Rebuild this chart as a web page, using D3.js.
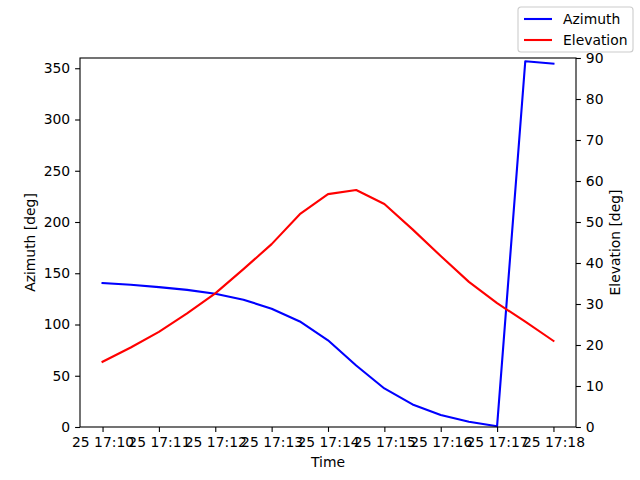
<!DOCTYPE html>
<html>
<head>
<meta charset="utf-8">
<script src="https://cdn.jsdelivr.net/npm/d3@7"></script>
<style>
  body { margin: 0; background: #fff; }
  text { font-family: "DejaVu Sans", sans-serif; }
</style>
</head>
<body>
<svg width="640" height="480"></svg>
<script>
// data: one sample every 30 s
const times = [
  "17:10:00", "17:10:30", "17:11:00", "17:11:30", "17:12:00", "17:12:30",
  "17:13:00", "17:13:30", "17:14:00", "17:14:30", "17:15:00", "17:15:30",
  "17:16:00", "17:16:30", "17:17:00", "17:17:30", "17:18:00"
];
const azimuth = [
  140.5, 138.8, 136.5, 133.8, 130.0, 124.2, 115.4, 103.0, 84.6,
  60.0, 37.6, 22.0, 11.7, 5.2, 0.8, 356.8, 354.5
];
const elevation = [
  15.9, 19.4, 23.2, 27.7, 32.6, 38.5, 44.6, 51.9, 56.8,
  57.8, 54.4, 48.2, 41.7, 35.4, 30.2, 25.7, 21.0
];
const azTicks = [0, 50, 100, 150, 200, 250, 300, 350];
const elTicks = [0, 10, 20, 30, 40, 50, 60, 70, 80, 90];
const seriesNames = ["Azimuth", "Elevation"];

const parseT = d3.timeParse("%Y-%m-%d %H:%M:%S");
const dates = times.map((t) => parseT("2024-01-25 " + t));

const plotLeft = 80, plotRight = 576, plotTop = 58, plotBottom = 427;
const fontSize = 13.9;

const svg = d3.select("svg");

//scales
const span = dates[dates.length - 1] - dates[0];
const x = d3
  .scaleTime()
  .domain([new Date(+dates[0] - span * 0.05), new Date(+dates[dates.length - 1] + span * 0.05)])
  .range([plotLeft, plotRight]);
const yAz = d3.scaleLinear().domain([0, 360]).range([plotBottom, plotTop]);
const yEl = d3.scaleLinear().domain([0, 90]).range([plotBottom, plotTop]);

//axes
const tickMinutes = d3.timeMinute.range(dates[0], new Date(+dates[dates.length - 1] + 1));
const xAxis = d3
  .axisBottom(x)
  .tickValues(tickMinutes)
  .tickFormat(d3.timeFormat("%d %H:%M"))
  .tickSize(4.9)
  .tickPadding(4.9);
const leftAxis = d3.axisLeft(yAz).tickValues(azTicks).tickSize(4.9).tickPadding(4.9);
const rightAxis = d3.axisRight(yEl).tickValues(elTicks).tickSize(4.9).tickPadding(4.9);

function styleAxis(g) {
  g.select(".domain").remove();
  g.selectAll("line").attr("stroke", "#000").attr("stroke-width", 1.1);
  g.selectAll("text")
    .attr("fill", "#000")
    .style("font-size", fontSize + "px")
    .style("font-family", "DejaVu Sans");
}

svg.append("g").attr("transform", `translate(0,${plotBottom})`).call(xAxis).call(styleAxis);
svg.append("g").attr("transform", `translate(${plotLeft},0)`).call(leftAxis).call(styleAxis);
svg.append("g").attr("transform", `translate(${plotRight},0)`).call(rightAxis).call(styleAxis);

//lines
const azLine = d3.line().x((d, i) => x(dates[i])).y((d) => yAz(d));
const elLine = d3.line().x((d, i) => x(dates[i])).y((d) => yEl(d));

svg.append("path").datum(azimuth).attr("d", azLine)
  .attr("fill", "none").attr("stroke", "blue").attr("stroke-width", 2.1)
  .attr("stroke-linejoin", "round").attr("stroke-linecap", "square");
svg.append("path").datum(elevation).attr("d", elLine)
  .attr("fill", "none").attr("stroke", "red").attr("stroke-width", 2.1)
  .attr("stroke-linejoin", "round").attr("stroke-linecap", "square");

//frame
svg.append("rect")
  .attr("x", plotLeft).attr("y", plotTop)
  .attr("width", plotRight - plotLeft).attr("height", plotBottom - plotTop)
  .attr("fill", "none").attr("stroke", "#000").attr("stroke-width", 1.1);

//labels
svg.append("text")
  .attr("x", (plotLeft + plotRight) / 2).attr("y", 467)
  .attr("text-anchor", "middle").style("font-size", fontSize + "px")
  .text("Time");
svg.append("text")
  .attr("transform", `translate(35,${(plotTop + plotBottom) / 2}) rotate(-90)`)
  .attr("text-anchor", "middle").style("font-size", fontSize + "px")
  .text("Azimuth [deg]");
svg.append("text")
  .attr("transform", `translate(620,${(plotTop + plotBottom) / 2}) rotate(-90)`)
  .attr("text-anchor", "middle").style("font-size", fontSize + "px")
  .text("Elevation [deg]");

//legend
const legend = svg.append("g").attr("transform", "translate(518,7)");
legend.append("rect")
  .attr("width", 115).attr("height", 45).attr("rx", 3)
  .attr("fill", "#fff").attr("fill-opacity", 0.8)
  .attr("stroke", "#ccc").attr("stroke-width", 1.1);
const legendColors = ["blue", "red"];
seriesNames.forEach((name, i) => {
  const yy = 12 + i * 21;
  legend.append("line")
    .attr("x1", 6).attr("x2", 34).attr("y1", yy).attr("y2", yy)
    .attr("stroke", legendColors[i]).attr("stroke-width", 2.1);
  legend.append("text")
    .attr("x", 45).attr("y", yy + 5)
    .style("font-size", fontSize + "px")
    .text(name);
});
</script>
</body>
</html>
